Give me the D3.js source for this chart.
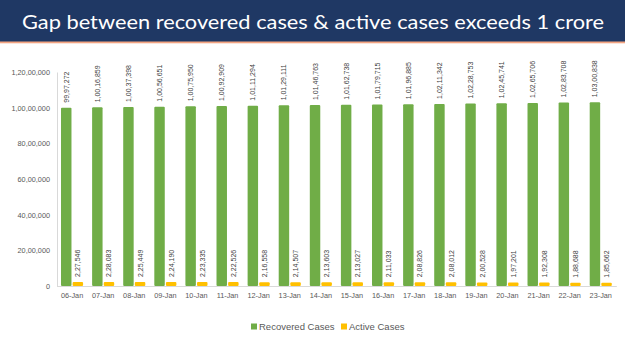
<!DOCTYPE html>
<html>
<head>
<meta charset="utf-8">
<script src="https://cdn.jsdelivr.net/npm/d3@7"></script>
<style>
  body { margin: 0; background: #fff; }
  svg { display: block; }
</style>
</head>
<body>
<div id="chart"></div>
<script>
const WIDTH = 625, HEIGHT = 351;

const dates = ["06-Jan","07-Jan","08-Jan","09-Jan","10-Jan","11-Jan","12-Jan","13-Jan","14-Jan",
  "15-Jan","16-Jan","17-Jan","18-Jan","19-Jan","20-Jan","21-Jan","22-Jan","23-Jan"];
const recovered = [9997272,10016859,10037398,10056651,10075950,10092909,10111294,10129111,10146763,
  10162738,10179715,10196885,10211342,10228753,10245741,10265706,10283708,10300838];
const active = [227546,228083,225449,224190,223335,222526,216558,214507,213603,
  213027,211033,208826,208012,200528,197201,192308,188688,185662];
const seriesNames = ["Recovered Cases", "Active Cases"];
const seriesColors = ["#70AD47", "#FFC000"];
const yTicks = [0, 2000000, 4000000, 6000000, 8000000, 10000000, 12000000];

// indian digit grouping, e.g. 1,00,16,859
function inFmt(v) {
  let s = String(Math.round(v));
  if (s.length <= 3) return s;
  let last = s.slice(-3), rest = s.slice(0, -3);
  let parts = [];
  while (rest.length > 2) { parts.unshift(rest.slice(-2)); rest = rest.slice(0, -2); }
  if (rest.length) parts.unshift(rest);
  return parts.join(",") + "," + last;
}

const svg = d3.select("#chart").append("svg")
  .attr("width", WIDTH).attr("height", HEIGHT);

// title banner
svg.append("rect").attr("x", 0).attr("y", 0).attr("width", WIDTH).attr("height", 42)
  .attr("fill", "#1F3864");
svg.append("rect").attr("x", 0).attr("y", 41.5).attr("width", WIDTH).attr("height", 1.8)
  .attr("fill", "#F4A582");
svg.append("text")
  .attr("x", 22).attr("y", 28.5)
  .attr("textLength", 582).attr("lengthAdjust", "spacingAndGlyphs")
  .style("font-family", "Lato, 'Open Sans', sans-serif")
  .style("font-size", "20px")
  .attr("fill", "#fff")
  .text("Gap between recovered cases & active cases exceeds 1 crore");

// scales
const x0 = d3.scaleBand().domain(dates).range([56.5, 616.3])
  .paddingInner(0.29).paddingOuter(0.145);
const x1 = d3.scaleBand().domain(seriesNames).range([0, x0.bandwidth()]).paddingInner(0.1);
const y = d3.scaleLinear().domain([0, 12000000]).range([286, 72]);
const color = d3.scaleOrdinal().domain(seriesNames).range(seriesColors);

const FONT = "'Liberation Sans', Arial, sans-serif";
const TXT = "#595959";

// y axis labels
const yAxis = svg.append("g").attr("transform", "translate(57,0)")
  .call(d3.axisLeft(y).tickValues(yTicks).tickFormat(inFmt).tickSize(0).tickPadding(7));
yAxis.select(".domain").attr("stroke", "#D9D9D9");
yAxis.selectAll("text").style("font-family", FONT).style("font-size", "7.3px").attr("fill", TXT);

// x axis
const xAxis = svg.append("g").attr("transform", "translate(0,286)")
  .call(d3.axisBottom(x0).tickSize(0).tickPadding(7));
xAxis.select(".domain").attr("stroke", "#D9D9D9");
xAxis.selectAll("text").style("font-family", FONT).style("font-size", "7.3px").attr("fill", TXT);

const rows = dates.map((d, i) => ({ date: d, values: [
  { key: seriesNames[0], value: recovered[i] },
  { key: seriesNames[1], value: active[i] }] }));

const groups = svg.append("g").selectAll("g").data(rows).enter().append("g")
  .attr("transform", d => "translate(" + x0(d.date) + ",0)");

groups.selectAll("rect").data(d => d.values).enter().append("rect")
  .attr("x", d => x1(d.key))
  .attr("y", d => y(d.value))
  .attr("width", x1.bandwidth())
  .attr("height", d => y(0) - y(d.value))
  .attr("rx", 1)
  .attr("fill", d => color(d.key));

groups.selectAll("text.val").data(d => d.values).enter().append("text")
  .attr("class", "val")
  .attr("transform", d => {
    const cx = x1(d.key) + x1.bandwidth() / 2 + 2.5;
    const cy = y(d.value) - 5;
    return "translate(" + cx + "," + cy + ") rotate(-90)";
  })
  .style("font-family", FONT).style("font-size", "7px")
  .attr("fill", "#404040")
  .text(d => inFmt(d.value));

// legend
const legend = svg.append("g").attr("transform", "translate(251,330)");
const legendX = [0, 90];
seriesNames.forEach((s, i) => {
  const g = legend.append("g").attr("transform", "translate(" + legendX[i] + ",0)");
  g.append("rect").attr("x", 0).attr("y", -6.5).attr("width", 6).attr("height", 6).attr("fill", color(s));
  g.append("text").attr("x", 8).attr("y", 0)
    .style("font-family", FONT).style("font-size", "9.5px").attr("fill", TXT).text(s);
});
</script>
</body>
</html>
